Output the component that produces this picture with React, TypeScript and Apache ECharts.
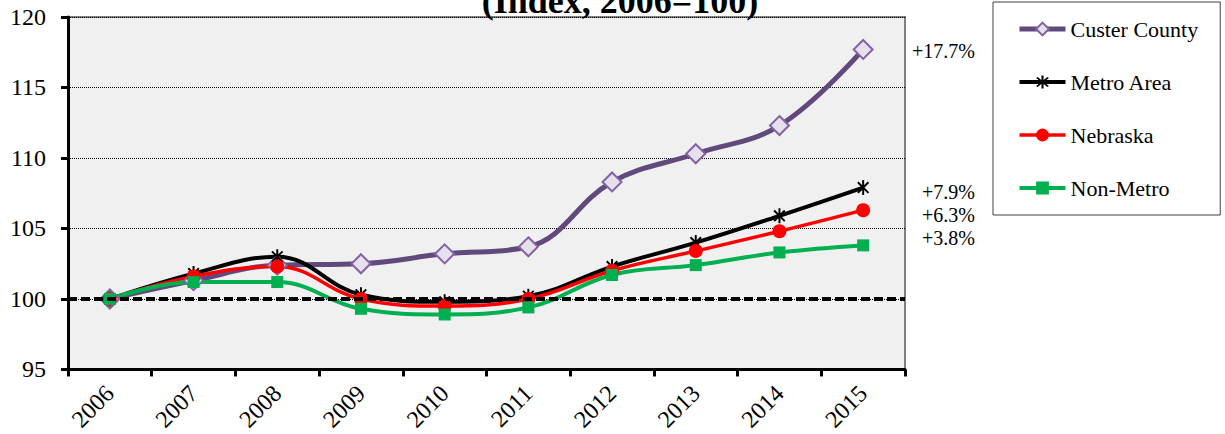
import React, { useEffect, useRef } from "react";
import * as echarts from "echarts";

const years = ["2006", "2007", "2008", "2009", "2010", "2011", "2012", "2013", "2014", "2015"];
const custer = [100, 101.3, 102.4, 102.5, 103.2, 103.7, 108.3, 110.3, 112.3, 117.7];
const metro = [100, 101.8, 103.0, 100.3, 99.8, 100.2, 102.3, 104.0, 105.9, 107.9];
const nebraska = [100, 101.6, 102.3, 100.0, 99.5, 100.0, 102.0, 103.4, 104.8, 106.3];
const nonMetro = [100, 101.2, 101.2, 99.3, 98.9, 99.4, 101.7, 102.4, 103.3, 103.8];
const seriesNames = ["Custer County", "Metro Area", "Nebraska", "Non-Metro"];
const changeLabels = ["+17.7%", "+7.9%", "+6.3%", "+3.8%"];
const yTicks = { min: 95, max: 120, interval: 5 };
const titleText = "(Index, 2006=100)";

const FONT = "Liberation Serif";

function starPath(): string {
  const c = 10, L = 10, t = 1.3;
  const bar = (deg: number) => {
    const a = (deg * Math.PI) / 180;
    const dx = Math.cos(a), dy = Math.sin(a);
    const nx = -dy, ny = dx;
    const p = [
      [c + L * dx + t * nx, c + L * dy + t * ny],
      [c + L * dx - t * nx, c + L * dy - t * ny],
      [c - L * dx - t * nx, c - L * dy - t * ny],
      [c - L * dx + t * nx, c - L * dy + t * ny],
    ];
    return "M" + p.map((q) => q[0].toFixed(2) + "," + q[1].toFixed(2)).join(" L") + " Z";
  };
  return "path://" + bar(90) + " " + bar(45) + " " + bar(135);
}

export default function App() {
  const ref = useRef<HTMLDivElement>(null);
  useEffect(() => {
    if (!ref.current) return;
    const chart = echarts.init(ref.current, null, { renderer: "svg" });
    const labelYs = [51, 192, 215, 238];
    chart.setOption({
      animation: false,
      textStyle: { fontFamily: FONT },
      grid: {
        left: 68,
        right: 320,
        top: 17,
        bottom: 64,
        show: true,
        backgroundColor: "#F0F0F0",
        borderColor: "#808080",
        borderWidth: 2,
      },
      legend: {
        orient: "vertical",
        left: 993,
        top: 2,
        padding: [16, 22, 16, 24],
        itemGap: 31,
        itemWidth: 46,
        itemHeight: 16,
        borderColor: "#404040",
        borderWidth: 1,
        backgroundColor: "#fff",
        data: seriesNames,
        lineStyle: { width: "inherit" },
        textStyle: { fontFamily: FONT, fontSize: 22, color: "#000", lineHeight: 22 },
      },
      xAxis: {
        type: "category",
        data: years,
        boundaryGap: true,
        axisLine: { show: true, lineStyle: { color: "#000", width: 3 } },
        axisTick: { show: true, length: 7, lineStyle: { color: "#000", width: 3 } },
        axisLabel: { rotate: 45, fontSize: 24, color: "#000", fontFamily: FONT, margin: 20 },
        splitLine: { show: false },
      },
      yAxis: {
        type: "value",
        min: yTicks.min,
        max: yTicks.max,
        interval: yTicks.interval,
        axisLine: { show: true, lineStyle: { color: "#000", width: 3 } },
        axisTick: { show: true, length: 7, lineStyle: { color: "#000", width: 3 } },
        axisLabel: { fontSize: 24, color: "#000", fontFamily: FONT, margin: 22 },
        splitLine: { show: true, lineStyle: { color: "#000", type: "dotted", width: 1 } },
      },
      series: [
        {
          name: seriesNames[0],
          type: "line",
          data: custer,
          smooth: 0.4,
          symbol: "diamond",
          symbolSize: 19,
          lineStyle: { color: "#604A7B", width: 5 },
          itemStyle: { color: "#E6E0EC", borderColor: "#8064A2", borderWidth: 2 },
          markLine: {
            silent: true,
            symbol: ["none", "none"],
            label: { show: false },
            lineStyle: { color: "#000", type: [9, 4], width: 4 },
            data: [{ yAxis: 100 }],
          },
        },
        {
          name: seriesNames[1],
          type: "line",
          data: metro,
          smooth: 0.4,
          symbol: starPath(),
          symbolKeepAspect: true,
          symbolSize: 15,
          lineStyle: { color: "#000", width: 4 },
          itemStyle: { color: "#000" },
        },
        {
          name: seriesNames[2],
          type: "line",
          data: nebraska,
          smooth: 0.4,
          symbol: "circle",
          symbolSize: 14,
          lineStyle: { color: "#FF0000", width: 3.5 },
          itemStyle: { color: "#FF0000" },
        },
        {
          name: seriesNames[3],
          type: "line",
          data: nonMetro,
          smooth: 0.4,
          symbol: "rect",
          symbolSize: 12,
          lineStyle: { color: "#00B050", width: 4 },
          itemStyle: { color: "#00B050" },
        },
      ],
      graphic: [
        {
          type: "text",
          x: 620,
          y: 1,
          style: {
            text: titleText,
            font: "bold 36px " + FONT,
            fill: "#000",
            align: "center",
            verticalAlign: "middle",
          },
        },
        ...changeLabels.map((t, i) => ({
          type: "text",
          x: 975,
          y: labelYs[i],
          style: {
            text: t,
            font: "20px " + FONT,
            fill: "#000",
            align: "right",
            verticalAlign: "middle",
          },
        })),
      ],
    });
    return () => chart.dispose();
  }, []);
  return <div ref={ref} style={{ width: 1225, height: 434, position: "absolute", left: 0, top: 0 }} />;
}
